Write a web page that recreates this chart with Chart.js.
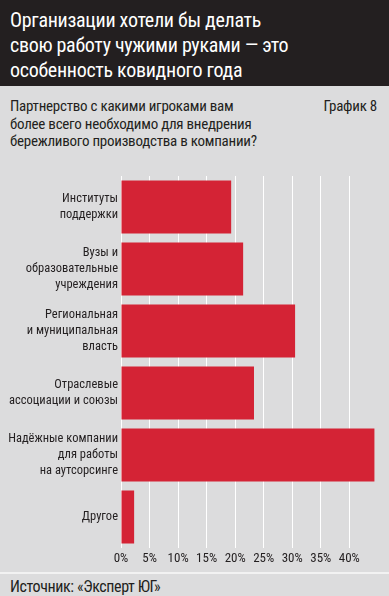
<!DOCTYPE html>
<html>
<head>
<meta charset="utf-8">
<script src="https://cdn.jsdelivr.net/npm/chart.js@4"></script>
<style>
  body { margin: 0; width: 389px; height: 596px; background: #dcdcdd; overflow: hidden; position: relative;
         font-family: "Roboto Condensed", "DejaVu Sans Condensed", sans-serif; font-stretch: condensed; color: #231f20; }
  #head { position: absolute; left: 0; top: 0; width: 389px; height: 86px; background: #231f20; color: #fff;
          font-size: 20px; line-height: 25px; letter-spacing: -0.3px; padding: 8px 0 0 10px; box-sizing: border-box; }
  #sub { position: absolute; left: 10px; top: 98px; font-size: 15px; line-height: 17.5px; letter-spacing: -0.25px; }
  #num { position: absolute; right: 12px; top: 98px; font-size: 15px; line-height: 17.5px; letter-spacing: -0.25px; }
  #box { position: absolute; left: 0; top: 165px; width: 389px; height: 405px; }
  #rule { position: absolute; left: 0; top: 572px; width: 389px; height: 2px; background: #f2f2f2; }
  #src { position: absolute; left: 10px; top: 577px; font-size: 16px; line-height: 20px; letter-spacing: -0.4px; }
</style>
</head>
<body>
<div id="head">Организации хотели бы делать<br>свою работу чужими руками — это<br>особенность ковидного года</div>
<div id="sub">Партнерство с какими игроками вам<br>более всего необходимо для внедрения<br>бережливого производства в компании?</div>
<div id="num">График 8</div>
<div id="box"><canvas id="chart"></canvas></div>
<div id="rule"></div>
<div id="src">Источник: «Эксперт ЮГ»</div>

<script>
/*************************************************
 * Data
 *************************************************/
const categories = [
  ["Институты", "поддержки"],
  ["Вузы и", "образовательные", "учреждения"],
  ["Региональная", "и муниципальная", "власть"],
  ["Отраслевые", "ассоциации и союзы"],
  ["Надёжные компании", "для работы", "на аутсорсинге"],
  ["Другое"]
];
const shares = [19.3, 21.4, 30.5, 23.3, 44.4, 2.3];
const tickValues = [0, 5, 10, 15, 20, 25, 30, 35, 40];

/*************************************************
 * Chart
 *************************************************/
const font = "'Roboto Condensed', 'DejaVu Sans Condensed', sans-serif";
// the "condensed" goes into the canvas font shorthand (weight slot), canvas ignores CSS font-stretch
const labelFont = { family: font, size: 12.5, weight: "normal condensed" };

new Chart(document.getElementById("chart"), {
  type: "bar",
  data: {
    labels: categories,
    datasets: [{
      data: shares,
      backgroundColor: "#d42335",
      barPercentage: 0.855,
      categoryPercentage: 1
    }]
  },
  options: {
    indexAxis: "y",
    responsive: true,
    maintainAspectRatio: false,
    animation: false,
    layout: { padding: { top: 11, right: 14, left: 0, bottom: 0 } },
    plugins: { legend: { display: false }, tooltip: { enabled: false } },
    scales: {
      x: {
        min: 0,
        max: 44.5,
        afterBuildTicks: axis => { axis.ticks = tickValues.map(v => ({ value: v })); },
        afterFit: axis => { axis.height = 22; },
        ticks: {
          autoSkip: false,
          maxRotation: 0,
          padding: 3,
          color: "#231f20",
          font: { ...labelFont, size: 13 },
          callback: v => v + "%"
        },
        grid: { color: "#ffffff", lineWidth: 1, drawTicks: false },
        border: { display: false }
      },
      y: {
        afterFit: axis => { axis.width = 121; },
        ticks: {
          padding: 3,
          autoSkip: false,
          color: "#231f20",
          font: { ...labelFont, lineHeight: 1.28 }
        },
        grid: { display: false, drawTicks: false, tickLength: 0 },
        border: { display: false }
      }
    }
  }
});
</script>
</body>
</html>
